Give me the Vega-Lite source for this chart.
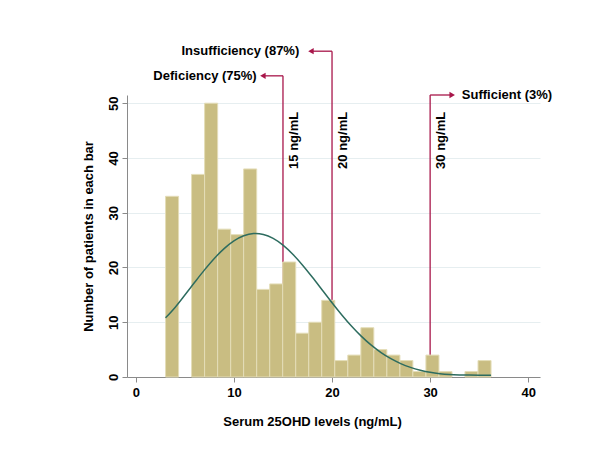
{
  "$schema": "https://vega.github.io/schema/vega-lite/v6.json",
  "width": 413,
  "height": 282,
  "autosize": "none",
  "padding": {"left": 127, "top": 95, "right": 60, "bottom": 73},
  "background": "white",
  "config": {
    "view": {"stroke": null},
    "font": "Liberation Sans",
    "axis": {
      "labelFont": "Liberation Sans",
      "labelFontSize": 13,
      "labelFontWeight": "bold",
      "labelColor": "#000000",
      "titleFont": "Liberation Sans",
      "titleFontSize": 13,
      "titleFontWeight": "bold",
      "titleColor": "#000000",
      "domainColor": "#8a8a8a",
      "tickColor": "#8a8a8a",
      "tickSize": 5
    }
  },
  "datasets": {
    "bins": [
      {"x0": 3.03, "x1": 4.36, "count": 33, "base": 0},
      {"x0": 5.68, "x1": 7.01, "count": 37, "base": 0},
      {"x0": 7.01, "x1": 8.34, "count": 50, "base": 0},
      {"x0": 8.34, "x1": 9.67, "count": 27, "base": 0},
      {"x0": 9.67, "x1": 10.99, "count": 26, "base": 0},
      {"x0": 10.99, "x1": 12.32, "count": 38, "base": 0},
      {"x0": 12.32, "x1": 13.65, "count": 16, "base": 0},
      {"x0": 13.65, "x1": 14.97, "count": 17, "base": 0},
      {"x0": 14.97, "x1": 16.30, "count": 21, "base": 0},
      {"x0": 16.30, "x1": 17.63, "count": 8, "base": 0},
      {"x0": 17.63, "x1": 18.95, "count": 10, "base": 0},
      {"x0": 18.95, "x1": 20.28, "count": 14, "base": 0},
      {"x0": 20.28, "x1": 21.61, "count": 3, "base": 0},
      {"x0": 21.61, "x1": 22.94, "count": 4, "base": 0},
      {"x0": 22.94, "x1": 24.26, "count": 9, "base": 0},
      {"x0": 24.26, "x1": 25.59, "count": 5, "base": 0},
      {"x0": 25.59, "x1": 26.92, "count": 4, "base": 0},
      {"x0": 26.92, "x1": 28.24, "count": 3, "base": 0},
      {"x0": 28.24, "x1": 29.57, "count": 1, "base": 0},
      {"x0": 29.57, "x1": 30.90, "count": 4, "base": 0},
      {"x0": 30.90, "x1": 32.23, "count": 1, "base": 0},
      {"x0": 33.55, "x1": 34.88, "count": 1, "base": 0},
      {"x0": 34.88, "x1": 36.21, "count": 3, "base": 0}
    ],
    "curve": [
      {"x": 3.03, "y": 10.8}, {"x": 4, "y": 12.7}, {"x": 5, "y": 14.96}, {"x": 6, "y": 17.29},
      {"x": 7, "y": 19.56}, {"x": 8, "y": 21.65}, {"x": 9, "y": 23.45}, {"x": 10, "y": 24.86},
      {"x": 11, "y": 25.79}, {"x": 12, "y": 26.19}, {"x": 12.2, "y": 26.2}, {"x": 13, "y": 26.02},
      {"x": 14, "y": 25.3}, {"x": 15, "y": 24.07}, {"x": 16, "y": 22.41}, {"x": 17, "y": 20.42},
      {"x": 18, "y": 18.21}, {"x": 19, "y": 15.89}, {"x": 20, "y": 13.57}, {"x": 21, "y": 11.34},
      {"x": 22, "y": 9.27}, {"x": 23, "y": 7.42}, {"x": 24, "y": 5.81}, {"x": 25, "y": 4.46},
      {"x": 26, "y": 3.34}, {"x": 27, "y": 2.45}, {"x": 28, "y": 1.76}, {"x": 29, "y": 1.24},
      {"x": 30, "y": 0.85}, {"x": 31, "y": 0.6}, {"x": 32, "y": 0.45}, {"x": 33, "y": 0.38},
      {"x": 34, "y": 0.35}, {"x": 35, "y": 0.33}, {"x": 36.21, "y": 0.32}
    ],
    "cuts": [
      {"cut": 15, "base": 0, "top": 55.0, "tip": 12.9, "head": 12.95, "labelx": 12.32, "label": "Deficiency (75%)", "dir": "left", "cutlabel": "15 ng/mL", "labely": 38},
      {"cut": 20, "base": 0, "top": 59.5, "tip": 17.8, "head": 17.85, "labelx": 16.66, "label": "Insufficiency (87%)", "dir": "left", "cutlabel": "20 ng/mL", "labely": 38},
      {"cut": 30, "base": 0, "top": 51.5, "tip": 32.3, "head": 32.25, "labelx": 33.23, "label": "Sufficient (3%)", "dir": "right", "cutlabel": "30 ng/mL", "labely": 38}
    ]
  },
  "layer": [
    {
      "data": {"name": "cuts"},
      "mark": {"type": "rule", "color": "#a8164a", "strokeWidth": 1.3},
      "encoding": {
        "x": {"field": "cut", "type": "quantitative", "scale": {"domain": [-0.9, 41.2], "nice": false, "zero": false},
          "axis": {"values": [0, 10, 20, 30, 40], "title": "Serum 25OHD levels (ng/mL)", "grid": false, "labelPadding": 4, "titleX": 185, "titleY": 44, "titleBaseline": "middle", "titleAlign": "center"}},
        "y": {"field": "base", "type": "quantitative", "scale": {"domain": [0, 51.5], "nice": false},
          "axis": {"values": [0, 10, 20, 30, 40, 50], "title": "Number of patients in each bar", "grid": true, "gridColor": "#e6eef0", "labelAngle": 270, "labelAlign": "center", "labelBaseline": "bottom", "labelPadding": 2, "titleX": -39, "titleY": 141, "titleBaseline": "middle", "titleAlign": "center"}},
        "y2": {"field": "top"}
      }
    },
    {
      "data": {"name": "bins"},
      "mark": {"type": "bar", "color": "#c9bd82", "stroke": "#e4ddb8", "strokeWidth": 1},
      "encoding": {
        "x": {"field": "x0", "type": "quantitative"},
        "x2": {"field": "x1"},
        "y": {"field": "count", "type": "quantitative"},
        "y2": {"field": "base"}
      }
    },
    {
      "data": {"name": "cuts"},
      "mark": {"type": "rule", "color": "#a8164a", "strokeWidth": 1.3},
      "encoding": {
        "x": {"field": "cut", "type": "quantitative"},
        "x2": {"field": "tip"},
        "y": {"field": "top", "type": "quantitative"}
      }
    },
    {
      "data": {"name": "cuts"},
      "mark": {"type": "point", "filled": true, "color": "#a8164a", "size": 40, "opacity": 1},
      "encoding": {
        "x": {"field": "head", "type": "quantitative"},
        "y": {"field": "top", "type": "quantitative"},
        "shape": {"field": "dir", "type": "nominal", "scale": {"domain": ["left", "right"], "range": ["triangle-left", "triangle-right"]}, "legend": null}
      }
    },
    {
      "data": {"name": "cuts"},
      "transform": [{"filter": "datum.dir === 'left'"}],
      "mark": {"type": "text", "font": "Liberation Sans", "fontSize": 13, "fontWeight": "bold", "color": "#000000", "baseline": "middle", "align": "right"},
      "encoding": {
        "x": {"field": "labelx", "type": "quantitative"},
        "y": {"field": "top", "type": "quantitative"},
        "text": {"field": "label"}
      }
    },
    {
      "data": {"name": "cuts"},
      "transform": [{"filter": "datum.dir === 'right'"}],
      "mark": {"type": "text", "font": "Liberation Sans", "fontSize": 13, "fontWeight": "bold", "color": "#000000", "baseline": "middle", "align": "left"},
      "encoding": {
        "x": {"field": "labelx", "type": "quantitative"},
        "y": {"field": "top", "type": "quantitative"},
        "text": {"field": "label"}
      }
    },
    {
      "data": {"name": "cuts"},
      "mark": {"type": "text", "font": "Liberation Sans", "fontSize": 13, "fontWeight": "bold", "color": "#000000", "angle": 270, "align": "left", "baseline": "middle", "xOffset": 11},
      "encoding": {
        "x": {"field": "cut", "type": "quantitative"},
        "y": {"field": "labely", "type": "quantitative"},
        "text": {"field": "cutlabel"}
      }
    },
    {
      "data": {"name": "curve"},
      "mark": {"type": "line", "color": "#2d6c5f", "strokeWidth": 1.5, "interpolate": "monotone"},
      "encoding": {
        "x": {"field": "x", "type": "quantitative"},
        "y": {"field": "y", "type": "quantitative"}
      }
    }
  ]
}
